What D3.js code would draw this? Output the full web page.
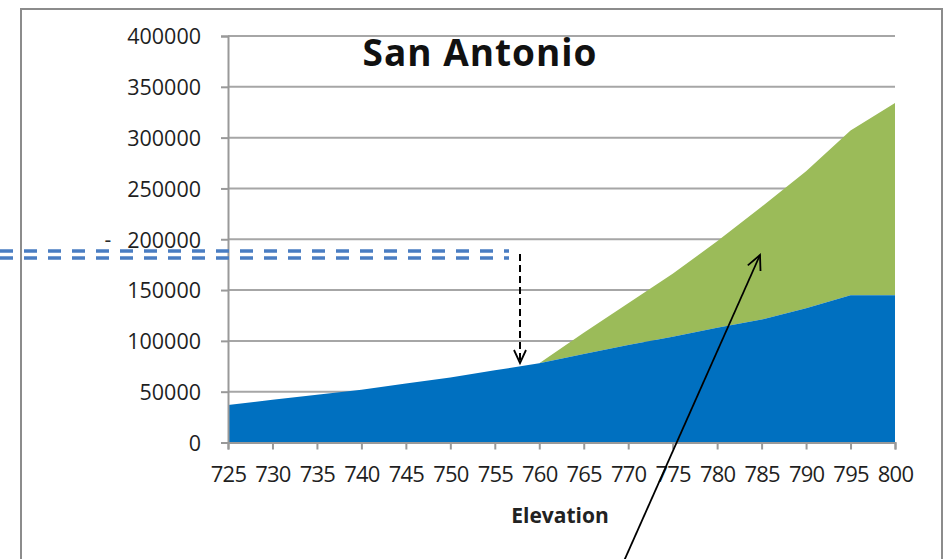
<!DOCTYPE html>
<html>
<head>
<meta charset="utf-8">
<script src="https://cdn.jsdelivr.net/npm/d3@7"></script>
<style>
  html, body { margin: 0; padding: 0; background: #fff; }
  svg { display: block; }
  text { font-family: "Open Sans", "DejaVu Sans", sans-serif; }
</style>
</head>
<body>
<svg id="chart" width="947" height="559"></svg>
<script>
// Elevation steps along the x axis
const elevations = [725, 730, 735, 740, 745, 750, 755, 760, 765, 770, 775, 780, 785, 790, 795, 800];
// Lower (blue) series
const baseValues = [37000, 42000, 47000, 52000, 58000, 64000, 71000, 78000, 87000, 96000, 104000, 113000, 121000, 132000, 145000, 145000];
// Upper (green) series, stacked on top of the blue one
const addedValues = [0, 0, 0, 0, 0, 0, 0, 0, 21000, 41000, 62000, 85000, 111000, 135000, 162000, 189000];
// Value axis ticks
const yTicks = [0, 50000, 100000, 150000, 200000, 250000, 300000, 350000, 400000];
const seriesColors = ["#0070C0", "#9BBB59"];

const svg = d3.select("#chart");
const margin = { left: 228, right: 52, top: 36, bottom: 116.5 };
const W = 947, H = 559;

const x = d3.scaleLinear().domain([725, 800]).range([margin.left, W - margin.right]);
const y = d3.scaleLinear().domain([0, 400000]).range([H - margin.bottom, margin.top]);

// Outer chart frame
svg.append("rect")
  .attr("x", 21).attr("y", 9).attr("width", 921).attr("height", 560)
  .attr("fill", "none").attr("stroke", "#8c8c8c").attr("stroke-width", 2);

// Horizontal gridlines
svg.append("g")
  .selectAll("line").data(yTicks.slice(1)).join("line")
  .attr("x1", x(725)).attr("x2", x(800))
  .attr("y1", d => y(d)).attr("y2", d => y(d))
  .attr("stroke", "#a6a6a6").attr("stroke-width", 2);

// Stacked areas
const rows = elevations.map((e, i) => ({ e, base: baseValues[i], added: addedValues[i] }));
const stacked = d3.stack().keys(["base", "added"])(rows);
const area = d3.area()
  .x(d => x(d.data.e))
  .y0(d => y(d[0]))
  .y1(d => y(d[1]));
svg.append("g")
  .selectAll("path").data(stacked.slice().reverse()).join("path")
  .attr("d", area)
  .attr("fill", d => seriesColors[d.index]);

// Value axis
const yAxis = svg.append("g")
  .attr("transform", `translate(${x(725)},0)`)
  .call(d3.axisLeft(y).tickValues(yTicks).tickFormat(d3.format("d")).tickSize(7).tickPadding(20));
yAxis.select(".domain").attr("stroke", "#999").attr("stroke-width", 2);
yAxis.selectAll(".tick line").attr("stroke", "#999").attr("stroke-width", 2);
yAxis.selectAll(".tick text")
  .attr("fill", "#1f1f1f").style("font-size", "21.5px").attr("dy", "0.36em");

// Category axis
const xAxis = svg.append("g")
  .attr("transform", `translate(0,${y(0)})`)
  .call(d3.axisBottom(x).tickValues(elevations).tickFormat(d3.format("d")).tickSize(7).tickPadding(17));
xAxis.select(".domain").attr("stroke", "#999").attr("stroke-width", 2);
xAxis.selectAll(".tick line").attr("stroke", "#999").attr("stroke-width", 2);
xAxis.selectAll(".tick text")
  .attr("fill", "#1f1f1f").style("font-size", "22px").attr("letter-spacing", "-0.8px");

// Title and axis title
svg.append("text")
  .attr("x", 480).attr("y", 66).attr("text-anchor", "middle")
  .style("font-size", "37px").style("font-weight", "bold").attr("fill", "#111")
  .attr("letter-spacing", "1px")
  .text("San Antonio");
svg.append("text")
  .attr("x", 560).attr("y", 523).attr("text-anchor", "middle")
  .style("font-size", "21px").style("font-weight", "bold").attr("fill", "#222")
  .text("Elevation");

// Small dash in front of the 200000 label
svg.append("text")
  .attr("x", 108).attr("y", y(200000)).attr("dy", "0.36em").attr("text-anchor", "middle")
  .style("font-size", "21px").attr("fill", "#2b2b2b").text("-");

// Double dashed guide line
[251, 258].forEach(yy => {
  svg.append("line")
    .attr("x1", 0).attr("x2", 509).attr("y1", yy).attr("y2", yy)
    .attr("stroke", "#4a7dc2").attr("stroke-width", 3.5)
    .attr("stroke-dasharray", "13 11");
});

// Dashed pointer down to the blue series
const px = 520;
svg.append("line")
  .attr("x1", px).attr("x2", px).attr("y1", 254).attr("y2", 362)
  .attr("stroke", "#000").attr("stroke-width", 2).attr("stroke-dasharray", "7 4");
svg.append("path")
  .attr("d", `M${px - 6},${350} L${px},${363} L${px + 6},${350}`)
  .attr("fill", "none").attr("stroke", "#000").attr("stroke-width", 1.8);

// Solid pointer up into the green series
const ax0 = 620, ay0 = 570, ax1 = 760, ay1 = 255;
svg.append("line")
  .attr("x1", ax0).attr("y1", ay0).attr("x2", ax1).attr("y2", ay1)
  .attr("stroke", "#000").attr("stroke-width", 1.8);
const ang = Math.atan2(ay1 - ay0, ax1 - ax0);
const hl = 16, spread = 0.45;
svg.append("path")
  .attr("d", `M${ax1 - hl * Math.cos(ang - spread)},${ay1 - hl * Math.sin(ang - spread)} L${ax1},${ay1} L${ax1 - hl * Math.cos(ang + spread)},${ay1 - hl * Math.sin(ang + spread)}`)
  .attr("fill", "none").attr("stroke", "#000").attr("stroke-width", 1.8);
</script>
</body>
</html>
